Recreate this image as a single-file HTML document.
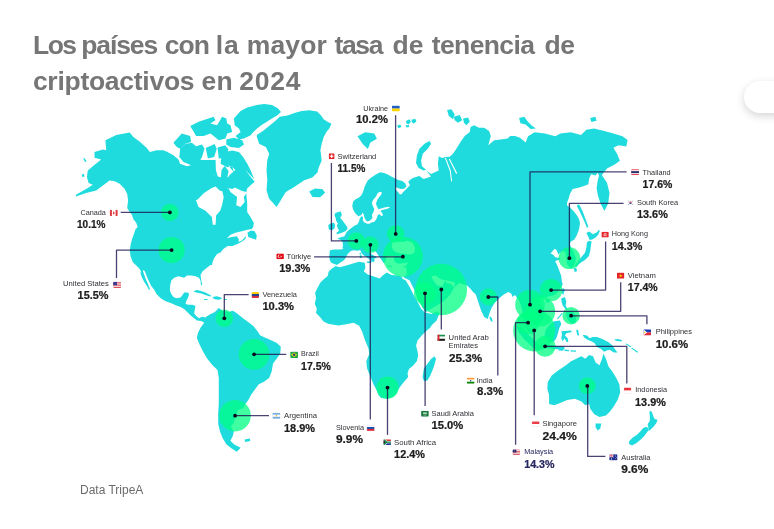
<!DOCTYPE html>
<html><head><meta charset="utf-8"><title>Mapa</title>
<style>
html,body{margin:0;padding:0;background:#fff;}
body{width:774px;height:529px;overflow:hidden;position:relative;font-family:"Liberation Sans",sans-serif;}
h1{position:absolute;left:0;top:0;margin:0;font-size:26.5px;line-height:26.5px;font-weight:700;color:#767676;white-space:nowrap;}
h1 span{position:absolute;white-space:nowrap;}
.src{position:absolute;left:80px;top:483px;font-size:12px;color:#6b6b6b;}
.pill{position:absolute;left:744px;top:80.5px;width:60px;height:32px;border-radius:16px;background:#fff;box-shadow:0 3px 8px rgba(0,0,0,.17);}
svg{position:absolute;left:0;top:0;will-change:transform;}
h1,.src{will-change:transform;}
</style></head><body>
<h1><span style="left:32.94px;top:31.9px;letter-spacing:-1.488px">Los</span> <span style="left:81.22px;top:31.9px;letter-spacing:-1.12px">países</span> <span style="left:164.7px;top:31.9px;letter-spacing:-0.924px">con</span> <span style="left:215.75px;top:31.9px;letter-spacing:0.78px">la</span> <span style="left:246.82px;top:31.9px;letter-spacing:0.103px">mayor</span> <span style="left:334.4px;top:31.9px;letter-spacing:-1.319px">tasa</span> <span style="left:392.4px;top:31.9px;letter-spacing:0.157px">de</span> <span style="left:431.7px;top:31.9px;letter-spacing:-0.6px">tenencia</span> <span style="left:544.4px;top:31.9px;letter-spacing:-0.212px">de</span> <span style="left:32.9px;top:67.7px;letter-spacing:-0.275px">criptoactivos</span> <span style="left:201.6px;top:67.7px;letter-spacing:0.212px">en</span> <span style="left:239.18px;top:67.7px;letter-spacing:0.748px">2024</span></h1>
<div class="pill"></div>
<svg width="774" height="529" viewBox="0 0 774 529">
<path d="M76.0,194.7 87.8,188.0 92.8,184.7 88.6,183.0 86.9,177.1 87.8,170.4 92.8,166.2 101.2,159.5 94.5,157.8 94.5,151.9 102.9,149.4 106.2,150.2 105.4,140.2 116.3,135.1 129.7,132.6 133.1,136.8 139.8,141.8 146.5,147.7 149.9,151.9 156.6,150.2 163.3,150.2 167.5,151.9 173.4,155.3 178.5,159.5 180.1,163.7 186.9,166.2 193.6,164.5 200.3,166.2 206.0,164.0 209.2,169.3 214.4,174.9 220.8,177.5 221.6,169.8 224.7,165.9 228.6,171.1 227.3,177.5 232.5,180.1 235.0,174.9 238.9,177.5 237.6,185.3 232.5,189.1 227.3,187.9 224.7,191.7 219.5,190.4 215.7,186.6 211.8,187.9 204.0,193.0 197.6,199.5 196.0,200.3 198.5,207.0 205.2,210.4 211.9,217.1 212.8,224.7 215.6,224.7 216.1,215.4 220.3,210.4 222.0,205.3 223.7,197.0 222.0,190.2 224.5,187.7 228.7,188.6 230.4,191.9 237.1,197.0 236.3,205.3 240.5,207.0 244.7,202.0 243.8,197.0 246.3,193.6 247.2,203.7 247.2,212.1 250.5,217.1 253.9,223.0 253.1,227.2 251.8,229.1 247.5,229.8 241.9,231.2 236.2,232.6 230.5,234.8 226.9,238.3 231.9,236.9 236.9,236.2 239,239.7 238.3,241.9 241.9,240.5 244.7,237.6 246.1,235.5 245.4,239 241.9,241.4 239,243.3 235.5,244.7 232.6,246.1 227.6,246.1 223.4,249 220.5,252.5 217,254 214.1,258.2 212.7,261.8 212,265 210.4,264.9 206.9,267.8 202.6,271.3 200.5,274.9 201.2,279.8 202.3,285.5 200.9,284.8 200.5,280.6 199,277.7 195.5,276.3 191.2,275.6 187,275.6 184.1,277.7 178.4,276.3 174.2,277.7 171.3,280.6 170.2,285.5 169.9,290.5 171.3,294.1 173.5,296.9 176.3,298.3 180.6,297.6 182.7,294.8 184.1,292.6 187.7,292.4 189.1,294.1 188.1,297.6 186.2,301.2 185.5,304 188.4,304.7 192.6,304.7 195.5,306.1 194.8,309.7 194.1,313.2 196.2,316.1 199,318.2 201.9,316.8 205.4,317.5 206.9,316.8 209.7,315.4 211.1,314 204.7,325 204,322.5 201.2,321.1 196.9,320.4 194.1,318.2 191.2,316.1 187.7,312.5 184.1,309 180.6,306.9 176.3,305.4 171.3,303.3 165.6,301.2 160.7,298.3 156.4,294.1 154.3,289.8 151.2,286.1 148.6,280.4 146.6,276.1 145.2,271.9 143.8,270.1 142.9,271.1 144.3,275 145.8,279.2 148,283.9 150,289.2 149,290 146.9,286.1 144.1,281.8 141.9,277.5 140.5,273.3 140.9,271.1 139.1,268.3 136.2,265.5 132.7,261.9 130.6,256.2 129.8,250.5 130.6,244.8 132,239.2 134.1,233.5 135.5,229.2 137.7,227.1 136.2,222.8 133.4,219.3 132,215 129,211 127.2,208.0 128.1,200.6 127.2,193.9 124.7,188.9 119.7,183.8 114.6,181.3 109.6,180.5 102.9,185.5 96.2,190.5 86.1,193.1 76.0,196.4Z M233.9,118.5 240.6,110.9 247.3,107.6 256.5,105.0 264.2,104.0 272.0,105.0 277.8,108.3 281.0,112.1 277.1,115.4 272.0,118.6 266.8,121.8 261.6,125.1 256.5,128.9 252.6,132.8 250.7,135.3 244.0,138.6 238.9,139.5 235.6,136.1 240.6,131.9 238.9,128.6 234.7,125.2Z M190.2,126.0 198.6,121.8 213.7,116.8 215.4,120.2 210.4,123.5 217.1,125.2 222.1,116.8 226.3,118.5 227.2,123.5 230.5,125.2 232.2,131.9 227.2,133.6 225.5,138.6 218.8,140.3 213.7,136.1 210.4,133.6 203.7,136.1 196.1,136.1 192.8,130.2Z M173.4,142.8 181.8,133.6 190.2,136.1 191.1,142.0 185.2,143.7 180.2,148.7 176.8,147.0Z M180.2,148.7 185.2,144.0 191.9,142.8 196.1,146.2 202.0,144.5 204.5,148.7 202.0,157.1 198.6,163.0 190.2,164.7 183.5,162.1 179.3,157.1Z M205.7,147.9 214.6,144.0 216.8,148.7 214.1,157.1 207.9,158.4Z M217.6,147.4 225.2,145.3 228.5,149.5 225.2,156.8 218.8,158.8Z M226.3,139.5 233.9,137.8 242.3,140.3 244.0,144.5 238.9,147.9 230.5,147.0 226.3,144.5Z M225.5,152.1 232.2,150.4 238.9,152.1 243.1,157.1 247.3,163.8 250.7,170.5 254.1,178.9 245.5,170.1 250.5,176.8 254.7,181.8 250.5,185.2 247.2,188.6 246.3,191.9 242.1,191.1 235.4,187.7 228.7,185.2 225.3,180.2 230.4,174.3 235.4,170.1 232.1,166.7 227.0,165.0 223.7,160.0 233.9,172.2 232.2,166.3 227.2,167.2 220.5,163.8 221.3,157.9Z M190.1,160.0 215.6,160.0 215.9,170.1 217.8,176.8 213.6,174.3 208.6,169.2 200.2,165.9 190.1,165.0Z M247.5,232.6 251.1,230.5 254.6,231.2 256.8,235.5 256.1,239.7 251.8,238.3 248.2,236.9Z M257.1,134.8 262.9,130.9 269.4,125.7 275.8,120.5 279.7,116.7 287.5,115.4 295.2,112.8 301.7,110.9 309.4,110.2 317.2,111.5 321.1,115.4 323.6,119.3 327.5,121.8 331.4,123.8 329.5,128.3 326.2,132.2 323.6,137.3 321.7,143.8 320.4,150.3 321.1,155.4 321.7,160.6 318.8,167.2 317.5,172.4 312.3,177.5 304.3,180.2 294.2,186.9 285.8,191.9 280.8,200.3 276.6,207.0 269.0,198.6 266.5,190.2 267.3,180.2 266.5,170.1 267.3,160.0 269.2,153.7 265.8,147.0 259.1,143.7 256.6,136.1Z M193.3,291.2 196.9,290.1 201.2,290.9 205.4,292.6 209.7,294.8 211.8,296.2 209,296.2 204.7,294.8 200.5,293.3 196.2,292.6Z M212.5,296.9 216.8,296.2 221.1,297.6 221.8,299 218.2,299.7 214,299Z M204,299 207.6,299 207.6,300.1 204,300.1Z M223.9,299 226.7,299 226.7,300.1 223.9,300.1Z M209.7,314.5 214.9,312.0 218.8,308.1 222.6,310.7 227.8,312.0 233.0,310.7 236.8,313.3 243.3,318.4 248.5,322.3 253.6,326.2 257.5,331.3 260.1,335.2 265.3,337.8 271.7,340.4 276.9,343.0 280.8,346.8 280.3,353.3 276.9,358.5 273.0,363.6 271.7,371.4 269.1,377.9 264.0,381.7 258.8,384.3 254.9,389.5 251.1,394.7 248.5,399.8 244.6,405.0 245.2,404.2 243.4,408 237.7,410.3 236.3,414.6 234.4,419.3 233.9,423.1 231.1,425.9 232,428.8 233.9,431.1 233.0,435.6 230.4,440.7 234.3,444.6 240.7,447.7 236.8,451.8 231.7,448.5 226.5,444.6 222.6,438.1 220.1,431.7 218.2,423.9 218.2,413.6 218.8,403.3 218.8,390.3 218.8,380.0 218.8,377.9 217.5,370.1 212.3,364.9 207.1,358.5 203.3,352.0 199.4,344.3 196.8,337.8 198.1,332.6 200.7,327.5 204.5,322.3 205.8,317.1Z M244.6,439.4 249.8,438.4 250.3,441.0 245.1,442.0Z M335.1,264.3 331.6,263.1 329.9,260.8 329.3,256.7 329.9,250.3 334,249.6 340,249.4 343.5,249 342.5,248.3 343,244.9 342.5,241.5 340.2,239.8 337.3,238.7 341.3,237 344.2,236.4 346.7,232.0 349.1,229.8 351.4,228.0 354.3,225.7 357.3,224.5 359.0,221.6 359.8,218.6 361.4,216.3 363.1,217.1 362.7,219.8 363.7,222.1 365.5,223.0 367.2,223.7 369.6,223.7 371.3,222.5 374.3,221.8 376.0,219.8 377.2,217.1 377.9,214.8 379.5,214.2 381.3,215.9 383.0,215.4 382.1,212.8 380.5,211.2 381.9,210.1 386.6,208.9 389.8,207.7 389.1,206.8 384.2,207.5 380.1,208.7 378.6,209.3 376.6,205.7 376.0,203.4 377.2,199.9 378.9,197.5 381.3,194.6 381.9,192.3 380.1,191.7 377.8,192.9 376.0,196.4 373.1,199.9 371.9,202.8 372.5,205.2 374.3,209.3 373.1,212.8 371.9,215.1 372.5,218.0 370.2,220.4 367.2,221.6 365.5,219.8 364.3,216.9 363.7,214.5 362.5,212.4 361.4,215.1 358.4,216.3 355.5,213.4 353.2,209.8 352.3,206.3 352.6,204.0 353.2,201.6 355.5,199.3 359.0,197.5 361.4,195.2 363.1,191.7 364.3,187.6 366.1,183.5 367.8,180.5 371.3,177.6 375.4,174.7 380.1,172.3 384.2,172.9 388.3,174.7 391.2,176.4 394.8,178.2 398.3,180.0 402.4,181.1 405.3,183.5 406.5,186.4 404.1,188.8 400.6,189.0 397.1,187.8 395.0,187.3 395.9,189.9 398.3,192.3 400.0,194.4 401.8,194.0 403.0,192.3 405.3,189.9 407.7,187.6 410.0,185.2 408.2,181.7 410.0,180.0 412.3,178.2 415.9,177.0 419.4,175.9 423.6,178.9 431.1,176.4 426.1,170.5 431.1,173.9 438.7,170.5 437.9,163.8 438.7,156.3 442.1,157.9 445.4,157.1 449.6,156.8 453.0,153.7 456.3,148.7 460.5,142.0 464.7,136.1 469.8,131.9 470.6,126.9 474.0,125.2 479.0,127.7 484.1,127.7 489.1,131.1 490.8,136.1 488.3,145.3 494.1,140.3 500.9,139.5 507.6,138.6 510.1,136.1 515.1,136.1 520.0,137.8 525.6,142.6 528.1,136.2 534.6,132.3 544.9,133.6 555.3,136.2 560.4,133.6 570.8,132.3 581.1,134.9 586.3,129.7 594.0,128.4 604.4,131.0 613.4,133.6 622.5,136.2 627.6,140.1 626.3,146.5 618.6,145.2 613.4,147.8 617.3,154.3 619.9,160.7 614.7,164.6 607.0,168.5 601.8,174.9 607.0,182.7 609.5,193.0 608.2,203.4 604.4,211.1 600.5,203.4 597.9,195.6 596.6,187.9 597.6,181.3 599,175.6 597.6,172.8 595.5,175.6 591.2,174.2 589.1,178.5 588.4,184.2 583.4,186.3 578.4,187.7 572.7,189.1 569.9,194.1 568.5,199.1 567.1,202.6 567.1,205.5 570,207.6 573.5,211 577,215.5 579,219 580,223 579,229.6 577,234.8 574.4,239.5 571.1,241.5 569.8,243.4 571.1,248.1 573.7,252 575.7,257.3 575.4,262.6 573.1,267.2 569.8,267.9 567.1,263.9 566.5,258.7 565.8,253.4 563.8,250.7 559.8,252.7 558.5,254.7 556.5,250.1 554.6,248.7 550.6,253.4 553.2,254.7 555.2,257.3 559.8,258 560.5,259.3 556.5,260.6 555.2,261.3 557.2,265.3 559.2,270.6 561.2,275.8 561.8,281.1 562.7,284.6 558.8,291.1 554.9,294.9 549.8,296.2 544.6,297.5 540.7,298.8 539.4,304.0 543.3,309.1 544.6,316.9 540.7,322.1 538.1,324.7 533.0,322.1 530.4,316.9 527.8,313.0 526.5,318.2 527.8,323.4 530.4,329.8 534.3,335.0 530.4,333.7 526.5,327.2 523.9,319.5 522.6,313.0 521.3,306.6 518.8,300.1 514.9,294.9 512.6,297 511.2,293.5 508.4,292 504.1,294.2 499.8,297.7 497,300.6 494.2,303.4 491.3,308.4 489.2,314.1 487.8,319 484.2,316.9 481.4,311.2 478.5,302.7 475.7,294.2 473,292 471.1,289.5 467.1,285.5 459.1,283.1 454.2,287.5 450.2,294.5 443.3,301.4 433.3,307.4 425.5,312.3 422.4,307.5 418.5,298.4 413.4,288.1 409.5,280.3 404.2,277.7 403.2,276.2 406.5,275.6 406.6,270 406.4,265 408.4,262.6 403.7,263.1 399.1,263.7 395.6,262.6 393.8,260.2 394.4,256.5 392.1,255.8 388,256.2 386.3,257.3 385.7,260.2 384.9,262.5 383.4,263.1 382.2,260.8 380.5,258.5 378.1,255 375.8,251.5 371.2,250.7 369.4,251.5 370.6,253.3 372.9,255 375.8,256.5 377,257.9 374.1,258.5 374.7,260.5 373.5,262.2 371.3,261 369.2,259.2 366.3,257 363.6,255.2 361.4,253.2 360.8,251 360.1,250.3 357.2,250.7 353.7,250.3 350.8,250.9 349.7,252.1 347.9,253.8 346.2,256.7 345,259.1 343.3,260.8 338.6,263.7 336.9,264.9Z M335.1,213.2 337.9,212 340.8,211.5 341.9,214.9 340.2,217.7 342.5,220.5 344.7,223.4 347,226.8 347.6,229.1 345.3,231.3 341.3,233 337.3,234.2 336.2,233 339.1,230.8 337.9,228.5 336.8,225.6 337.9,223.4 336.2,221.1 335.6,217.7 334.5,215.4Z M328.3,225.1 330.5,223.4 333.9,222.8 335.1,225.1 334.5,228.5 331.7,230.2 328.8,229.6Z M309.2,191.5 315.0,188.5 322.6,189.3 325.1,192.7 320.1,197.2 312.5,196.9Z M357.5,136.2 365.3,132.3 374.3,133.6 376.9,138.8 370.4,142.6 367.9,149.1 362.7,143.9Z M429.5,141.1 431.1,143.7 427.8,148.7 422.8,153.7 421.1,160.5 421.9,166.3 426.1,169.7 423.6,170.5 418.6,168.0 416.0,163.0 416.9,155.4 419.4,148.7 424.4,143.7Z M447.1,110.1 451.3,109.2 454.7,114.3 453.0,119.3 448.8,116.0Z M453.8,116.8 459.7,115.1 462.2,120.2 458.0,122.7 454.7,120.2Z M463.1,118.5 468.1,117.6 469.8,121.8 466.4,125.2 463.9,122.7Z M406.0,121.0 409.3,119.3 411.0,121.8 408.5,124.4 406.5,123.5Z M411.5,119.8 415.2,118.8 416.5,121.5 413.5,123.5 411.8,122.2Z M405.5,125.2 408.8,124.9 409.3,126.9 406.5,127.4Z M397.1,125.5 400.4,124.4 401.4,126.9 398.4,128.2Z M519.1,118.1 524.3,116.8 528.1,122.0 532.0,125.8 535.9,128.4 530.7,128.9 525.6,124.5 520.4,123.3Z M590.2,118.1 595.3,116.8 596.6,120.7 591.4,122.0Z M577.5,204.5 579.5,205 582.5,211 585.8,219.7 588.3,226.5 587,228 584.6,222 581.8,216 579.3,210.5 577,206.5Z M586.3,232.9 589.2,231.5 592.9,234.2 596.9,232.2 598.9,229.8 599.8,230.9 598.2,234.8 595.6,237.5 592.2,239.5 589.6,240.1 588.3,236.8Z M591.6,241.5 590.9,245.4 590.3,250.7 588.9,256 585,260 581,262.6 578.4,264.6 576.4,267.2 574.7,265.9 579,260 582.3,256 585,252.7 586.3,248.1 587,242.1 589.6,240.8Z M573.7,267.9 576.4,267.9 577,271.2 574.7,271.9Z M562.7,287.7 564.8,289.8 563.2,294.9 561.4,292.4Z M545.9,299.6 549.8,298.8 549.3,302.2 546.1,302.7Z M561.3,298.5 564.9,297.1 566.3,301.4 565.6,305.6 567.7,309.2 565.6,309.2 562.7,305.6 561.6,302.1Z M566.3,311.3 572.7,311.3 576.2,317 575.5,322.7 572,324.1 568.4,320.6 566.3,316.3Z M557.1,318.4 562,312.7 562.7,313.5 557.9,319.3Z M554.2,321.3 559.9,320.6 561.3,324.1 559.2,328.4 557.8,334.1 556.3,338.3 554.2,341.2 548.5,341.9 544.3,336.9 545.7,329.8 550,324.1Z M561.3,331.2 570.6,330.5 572,331.9 566.3,333.3 564.9,335.5 567.7,338.3 568.4,341.9 566.7,341.9 564.4,338.3 562.7,341.5 561.3,338.3 562,334.1Z M576.2,329.8 578.1,330.1 579.1,335.5 577.2,335.2Z M516.2,325.9 521.3,327.2 527.8,333.7 535.6,341.4 540.7,347.9 538.1,350.5 531.7,346.6 523.9,338.9 518.8,332.4Z M538.8,344.5 546.5,344.5 555.6,345.8 564.6,347.1 564.1,349.7 554.3,348.9 545.2,347.9 539.3,346.9Z M582.6,334.8 586.9,335.5 589.7,338.3 592.6,336.9 596.9,336.9 602.5,339 608.2,341.9 612.5,345.4 615.3,349.7 617.5,352.5 613.9,352.5 609.6,349.7 606.8,350.4 604,351.8 601.1,349 596.9,346.9 594.7,343.3 591.2,341.2 587.6,339.7 584.1,337.6Z M613.9,339.4 618,339 622.4,340.2 621,341.4 616,340.8Z M625.3,344 626.5,343.6 631.5,346.5 630.5,347.2Z M631,348.3 632.2,347.8 638.3,352 637.3,352.8Z M558.5,349.2 563,349.5 563,350.8 558.5,350.5Z M564.5,349.6 569,350 569,351.2 564.5,350.9Z M570.5,350.2 576,350.6 576,351.8 570.5,351.4Z M489.9,316.2 492,318.3 492.7,321.9 491,321.2 489.6,318.3Z M332.1,265.3 340.0,267.3 347.9,264.9 358.9,261.7 364.8,262.7 365.4,267.7 363.8,271.6 367.8,274.6 373.8,276.6 379.7,278.6 382.7,275.6 386.7,272.6 391.6,275.0 399.6,275.8 402.4,277.3 402.2,278.8 405.6,280.3 409.5,286.8 413.4,294.5 417.2,301.0 421.1,308.8 425.0,312.6 431.4,313.9 437.9,311.3 439.2,313.9 436.6,320.4 431.4,325.6 427.6,330.7 433.1,324.3 427.4,329.9 421.7,335.6 417.5,340.6 416.1,345.6 417.5,351.3 418.2,355.5 416.8,361.2 413.2,365.5 409,369 407.5,373.3 408.2,376.9 404.7,381.1 401.1,385.4 398.3,389.6 396.2,394 393,396.8 387.5,398.7 381.1,397.9 378.4,395 377,391.1 373.4,384 369.9,375.4 367,368.3 366.3,361.2 369.2,354.1 368.5,348.4 364.9,339.9 362.1,331.4 359.2,325.7 353.5,322.8 346.2,324.3 338.4,325.6 330.7,324.3 328.6,323.9 323.5,321.4 320.2,317.2 316,313 316.8,308.8 314.8,303.7 316,297.9 315.1,292.8 317.6,287.8 320.2,282.8 323.5,279.4 327.7,276 328.6,271.8 331.9,268.5 336.1,266Z M434.5,356.2 436,359.1 433.8,366.9 430.3,375.4 427.4,380.4 423.9,381.1 422.5,376.9 423.9,368.3 427.4,364.1 431,359.1Z M547.8,382.0 551.7,375.6 558.1,370.4 565.9,365.2 571.1,361.3 576.2,358.8 581.4,356.2 585.3,358.8 589.1,354.9 593.0,356.2 595.6,362.6 599.5,365.2 602.1,358.8 603.4,353.6 605.9,358.8 608.5,366.5 612.4,371.7 616.3,378.1 619.4,384.6 620.2,392.4 617.6,400.1 613.7,406.6 609.8,411.7 605.9,415.6 599.5,416.9 594.3,414.3 590.4,409.1 589.1,404.0 585.3,405.3 581.4,401.4 574.9,398.8 567.2,400.1 560.7,402.7 554.3,405.3 549.1,404.0 549.1,394.9 547.3,388.5Z M595.6,423.4 601.3,423.4 600.3,428.5 597.7,430.6 595.6,427.2Z M649.7,410.6 651.9,412.0 653.3,416.3 654.7,419.1 657.6,419.8 656.1,423.4 653.3,427.0 649.7,430.5 648.3,430.5 648.3,427.0 647.6,424.1 649.7,421.3 650.0,417.0 649.5,413.5Z M647.6,427.2 648.3,430.5 646.9,432.6 644.1,436.2 640.5,439.7 636.2,443.3 632.0,445.4 629.1,444.0 629.1,441.2 632.7,437.6 637.0,434.8 640.5,431.2 643.3,428.1 645.5,427.0Z M366.5,261.4 371.7,261.2 371.2,263.1 367.5,263Z M359.8,255.3 361.6,255.3 361.6,258.1 359.9,258Z M359.6,252.7 360.9,252.7 360.8,254.8 359.7,254.7Z M387.5,265.6 392.5,266 392.5,267 387.6,266.8Z M403.5,266.4 407,265.6 406.5,267.3 403.8,267.6Z M83.1,158.6 84.6,158.2 86.7,161.5 85.2,162Z M81.7,174.5 84,174.1 84.5,176.5 82.3,176.9Z" fill="#20dbdd" fill-rule="nonzero"/>
<path d="M392.4,242.8 396.6,241.1 403.3,242.0 407.5,240.8 412.6,242.8 415.1,247.8 414.3,252.9 410.1,254.6 403.3,253.7 398.3,252.9 394.1,251.2 391.6,247.0Z M431.3,276.6 435.3,275.6 441.3,279.6 447.2,280.6 451.2,281.6 455,282.6 454.2,287.5 450.2,283.5 446.2,283.1 445.2,280.2 442.3,286.5 437.3,285.5 433.3,280.6Z M444.9,157.9 445.9,157.8 450.8,170.5 452.1,181.3 451.1,181.5 449.8,170.9Z M448.8,159.1 449.8,158.8 457.2,173.2 456.2,173.9Z" fill="#fff"/>
<g fill="#00ff84" fill-opacity="0.75">
<circle cx="169.9" cy="212.4" r="8.7"/>
<circle cx="171.6" cy="250.1" r="13.1"/>
<circle cx="224.3" cy="318.3" r="8.7"/>
<circle cx="254.1" cy="354.3" r="15.4"/>
<circle cx="235.1" cy="415.7" r="15.7"/>
<circle cx="356.3" cy="240.9" r="8.6"/>
<circle cx="370.4" cy="244.8" r="8.3"/>
<circle cx="395.7" cy="233.9" r="8.7"/>
<circle cx="402.9" cy="256.7" r="20"/>
<circle cx="441.3" cy="289.5" r="25.8"/>
<circle cx="425" cy="293.3" r="11"/>
<circle cx="387.5" cy="387.6" r="11.1"/>
<circle cx="488.3" cy="297" r="8.5"/>
<circle cx="530" cy="304.7" r="14.8"/>
<circle cx="540.1" cy="311.3" r="15.1"/>
<circle cx="528.1" cy="322.7" r="11.2"/>
<circle cx="534.2" cy="330.4" r="21"/>
<circle cx="545.1" cy="346.3" r="10.5"/>
<circle cx="551.1" cy="290.1" r="11.2"/>
<circle cx="569.4" cy="258.2" r="10.9"/>
<circle cx="571.1" cy="315.7" r="8.7"/>
<circle cx="587.3" cy="385.9" r="8.3"/>
</g>
<g fill="none" stroke="#1d134f" stroke-opacity="0.8" stroke-width="1.3" stroke-linejoin="round">
<path d="M120.7,212.4H169.9"/>
<path d="M171.6,250.1H116.5V278.1"/>
<path d="M224.3,318.3V294.6H248.6"/>
<path d="M254.1,354.3H286.3"/>
<path d="M235,415.7H269"/>
<path d="M314.1,256.8H402.8"/>
<path d="M331.4,163V240.9H356.3"/>
<path d="M395.6,115.2V233.9"/>
<path d="M370.3,244.8V419.5"/>
<path d="M387.5,387.4V434.9"/>
<path d="M425.1,293.4V405.9"/>
<path d="M441.3,289.5V329.4"/>
<path d="M488.3,297H497.8V375.6"/>
<path d="M530,304.7V171.8H626.6"/>
<path d="M569.4,258.2V203.3H623.6"/>
<path d="M551.1,290.1H605.6V241.4"/>
<path d="M540.1,311.3H620.7V282.2"/>
<path d="M571.1,315.8H646.9V324.3"/>
<path d="M528.1,322.7H515.6V444.8"/>
<path d="M534.2,330.4V415.3"/>
<path d="M545.1,346.3H626.8V383.6"/>
<path d="M587.7,386V456.4H605.4"/>
</g>
<g fill="#0a0a1e">
<circle cx="169.9" cy="212.4" r="1.9"/>
<circle cx="171.6" cy="250.1" r="1.9"/>
<circle cx="224.3" cy="318.3" r="1.9"/>
<circle cx="254.1" cy="354.3" r="1.9"/>
<circle cx="235.1" cy="415.7" r="1.9"/>
<circle cx="356.3" cy="240.9" r="1.9"/>
<circle cx="370.4" cy="244.8" r="1.9"/>
<circle cx="395.7" cy="233.9" r="1.9"/>
<circle cx="402.9" cy="256.7" r="1.9"/>
<circle cx="441.3" cy="289.5" r="1.9"/>
<circle cx="425" cy="293.3" r="1.9"/>
<circle cx="387.5" cy="387.6" r="1.9"/>
<circle cx="488.3" cy="297" r="1.9"/>
<circle cx="530" cy="304.7" r="1.9"/>
<circle cx="540.1" cy="311.3" r="1.9"/>
<circle cx="528.1" cy="322.7" r="1.9"/>
<circle cx="534.2" cy="330.4" r="1.9"/>
<circle cx="545.1" cy="346.3" r="1.9"/>
<circle cx="551.1" cy="290.1" r="1.9"/>
<circle cx="569.4" cy="258.2" r="1.9"/>
<circle cx="571.1" cy="315.7" r="1.9"/>
<circle cx="587.3" cy="385.9" r="1.9"/>
</g>
<g transform="translate(109.7,209.7)"><clipPath id="cCA"><rect width="8.1" height="6.3" rx="1" ry="1"/></clipPath><g clip-path="url(#cCA)"><rect x="0" y="0" width="8.1" height="6.3" fill="#fff"/><rect x="0" y="0" width="2.19" height="6.3" fill="#e03a3e"/><rect x="5.91" y="0" width="2.19" height="6.3" fill="#e03a3e"/><path d="M4.05,1.26L5.021999999999999,3.4650000000000003L4.05,5.04L3.078,3.4650000000000003Z" fill="#e03a3e"/></g></g>
<g transform="translate(113.1,281.8)"><clipPath id="cUS"><rect width="8.1" height="6.2" rx="1" ry="1"/></clipPath><g clip-path="url(#cUS)"><rect x="0" y="0" width="8.1" height="6.2" fill="#fff"/><rect x="0" y="0.0" width="8.1" height="0.89" fill="#d8414b"/><rect x="0" y="1.77" width="8.1" height="0.89" fill="#d8414b"/><rect x="0" y="3.54" width="8.1" height="0.89" fill="#d8414b"/><rect x="0" y="5.31" width="8.1" height="0.89" fill="#d8414b"/><rect x="0" y="0" width="3.89" height="3.41" fill="#3c3b8e"/></g></g>
<g transform="translate(251.5,292.1)"><clipPath id="cVE"><rect width="7.5" height="5.8" rx="1" ry="1"/></clipPath><g clip-path="url(#cVE)"><rect x="0" y="0.0" width="7.5" height="1.98" fill="#ffcc00"/><rect x="0" y="1.93" width="7.5" height="1.98" fill="#24408e"/><rect x="0" y="3.87" width="7.5" height="1.98" fill="#d52b3a"/></g></g>
<g transform="translate(290.2,351.6)"><clipPath id="cBR"><rect width="7.9" height="6.4" rx="1" ry="1"/></clipPath><g clip-path="url(#cBR)"><rect x="0" y="0" width="7.9" height="6.4" fill="#1fa84a"/><path d="M0.948,3.2L3.95,0.96L6.952,3.2L3.95,5.44Z" fill="#fedf00"/><circle cx="3.95" cy="3.2" r="1.2800000000000002" fill="#243a8c"/></g></g>
<g transform="translate(272.5,412.8)"><clipPath id="cAR"><rect width="7.8" height="6.0" rx="1" ry="1"/></clipPath><g clip-path="url(#cAR)"><rect x="0" y="0.0" width="7.8" height="2.05" fill="#74acdf"/><rect x="0" y="2.0" width="7.8" height="2.05" fill="#ffffff"/><rect x="0" y="4.0" width="7.8" height="2.05" fill="#74acdf"/><circle cx="3.9" cy="3.0" r="0.78" fill="#f6b40e"/><rect width="7.8" height="6.0" rx="1" fill="none" stroke="#9cc4e8" stroke-width="0.5"/></g></g>
<g transform="translate(276.3,253.4)"><clipPath id="cTR"><rect width="7.6" height="5.9" rx="1" ry="1"/></clipPath><g clip-path="url(#cTR)"><rect x="0" y="0" width="7.6" height="5.9" fill="#e30a17"/><circle cx="3.1919999999999997" cy="2.95" r="1.6520000000000004" fill="#fff"/><circle cx="3.6479999999999997" cy="2.95" r="1.298" fill="#e30a17"/><circle cx="4.864" cy="2.95" r="0.5900000000000001" fill="#fff"/></g></g>
<g transform="translate(328.7,153.3)"><clipPath id="cCH"><rect width="5.9" height="5.9" rx="1" ry="1"/></clipPath><g clip-path="url(#cCH)"><rect x="0" y="0" width="5.9" height="5.9" fill="#e4232b"/><rect x="2.36" y="1.18" width="1.18" height="3.54" fill="#fff"/><rect x="1.18" y="2.36" width="3.54" height="1.18" fill="#fff"/></g></g>
<g transform="translate(391.9,105.6)"><clipPath id="cUA"><rect width="7.9" height="5.9" rx="1" ry="1"/></clipPath><g clip-path="url(#cUA)"><rect x="0" y="0.0" width="7.9" height="3.0" fill="#1f5fc4"/><rect x="0" y="2.95" width="7.9" height="3.0" fill="#ffd500"/></g></g>
<g transform="translate(366.7,425)"><clipPath id="cSI"><rect width="7.9" height="6" rx="1" ry="1"/></clipPath><g clip-path="url(#cSI)"><rect x="0" y="0.0" width="7.9" height="2.05" fill="#ffffff"/><rect x="0" y="2.0" width="7.9" height="2.05" fill="#1c4fb0"/><rect x="0" y="4.0" width="7.9" height="2.05" fill="#e8242f"/><rect width="7.9" height="6" rx="1" fill="none" stroke="#c9c9d6" stroke-width="0.5"/></g></g>
<g transform="translate(383.4,439.3)"><clipPath id="cZA"><rect width="7.7" height="5.7" rx="1" ry="1"/></clipPath><g clip-path="url(#cZA)"><rect x="0" y="0" width="7.7" height="2.85" fill="#e03c31"/><rect x="0" y="2.85" width="7.7" height="2.85" fill="#1f3a93"/><path d="M0,0L3.4650000000000003,2.85L0,5.7M3.4650000000000003,2.85H7.7" stroke="#fff" stroke-width="2.394" fill="none"/><path d="M0,0L3.4650000000000003,2.85L0,5.7M3.4650000000000003,2.85H7.7" stroke="#128a4c" stroke-width="1.3679999999999999" fill="none"/><path d="M0,1.026L2.31,2.85L0,4.6739999999999995Z" fill="#111"/></g></g>
<g transform="translate(421.1,410.7)"><clipPath id="cSA"><rect width="7.7" height="6.0" rx="1" ry="1"/></clipPath><g clip-path="url(#cSA)"><rect x="0" y="0" width="7.7" height="6.0" fill="#1a7a3e"/><rect x="1.93" y="1.8" width="3.85" height="1.32" fill="#d8eadd"/><rect x="2.31" y="4.08" width="3.08" height="0.48" fill="#d8eadd"/></g></g>
<g transform="translate(437.3,334.5)"><clipPath id="cAE"><rect width="7.9" height="6.4" rx="1" ry="1"/></clipPath><g clip-path="url(#cAE)"><rect x="0" y="0.0" width="7.9" height="2.18" fill="#11924a"/><rect x="0" y="2.13" width="7.9" height="2.18" fill="#ffffff"/><rect x="0" y="4.27" width="7.9" height="2.18" fill="#1b1b1b"/><rect x="0" y="0" width="2.13" height="6.4" fill="#e8212b"/><rect width="7.9" height="6.4" rx="1" fill="none" stroke="#bbb" stroke-width="0.3"/></g></g>
<g transform="translate(466.7,377.6)"><clipPath id="cIN"><rect width="7.9" height="6.1" rx="1" ry="1"/></clipPath><g clip-path="url(#cIN)"><rect x="0" y="0.0" width="7.9" height="2.08" fill="#ff9933"/><rect x="0" y="2.03" width="7.9" height="2.08" fill="#ffffff"/><rect x="0" y="4.07" width="7.9" height="2.08" fill="#138808"/><circle cx="3.95" cy="3.05" r="0.732" fill="#2a3a9c"/></g></g>
<g transform="translate(512.5,449.4)"><clipPath id="cMY"><rect width="7.7" height="5.5" rx="1" ry="1"/></clipPath><g clip-path="url(#cMY)"><rect x="0" y="0" width="7.7" height="5.5" fill="#fff"/><rect x="0" y="0.0" width="7.7" height="0.79" fill="#d8414b"/><rect x="0" y="1.57" width="7.7" height="0.79" fill="#d8414b"/><rect x="0" y="3.14" width="7.7" height="0.79" fill="#d8414b"/><rect x="0" y="4.71" width="7.7" height="0.79" fill="#d8414b"/><rect x="0" y="0" width="3.85" height="3.13" fill="#23237a"/><circle cx="1.8479999999999999" cy="1.54" r="0.55" fill="#c9b24a"/></g></g>
<g transform="translate(531.8,421.3)"><clipPath id="cSG"><rect width="7.7" height="5.4" rx="1" ry="1"/></clipPath><g clip-path="url(#cSG)"><rect x="0" y="0.0" width="7.7" height="2.75" fill="#ee3a48"/><rect x="0" y="2.7" width="7.7" height="2.75" fill="#ffffff"/><rect width="7.7" height="5.4" rx="1" fill="none" stroke="#e6c9cc" stroke-width="0.5"/></g></g>
<g transform="translate(609.2,454.2)"><clipPath id="cAU"><rect width="8.3" height="6.2" rx="1" ry="1"/></clipPath><g clip-path="url(#cAU)"><rect x="0" y="0" width="8.3" height="6.2" fill="#1f2f8f"/><path d="M0,0L4.15,3.1M4.15,0L0,3.1" stroke="#fff" stroke-width="0.9"/><path d="M2.075,0V3.1M0,1.55H4.15" stroke="#fff" stroke-width="1.3"/><path d="M2.075,0V3.1M0,1.55H4.15" stroke="#e0242f" stroke-width="0.6"/><circle cx="2.2410000000000005" cy="4.712000000000001" r="0.6" fill="#fff"/><circle cx="6.2250000000000005" cy="1.8599999999999999" r="0.45" fill="#fff"/><circle cx="6.2250000000000005" cy="4.65" r="0.45" fill="#fff"/><circle cx="7.470000000000001" cy="3.1" r="0.4" fill="#fff"/></g></g>
<g transform="translate(623.8,387.6)"><clipPath id="cID"><rect width="7.5" height="5.9" rx="1" ry="1"/></clipPath><g clip-path="url(#cID)"><rect x="0" y="0.0" width="7.5" height="3.0" fill="#ee2a35"/><rect x="0" y="2.95" width="7.5" height="3.0" fill="#ffffff"/><rect width="7.5" height="5.9" rx="1" fill="none" stroke="#e6c9cc" stroke-width="0.5"/></g></g>
<g transform="translate(643.3,329.3)"><clipPath id="cPH"><rect width="7.8" height="6.2" rx="1" ry="1"/></clipPath><g clip-path="url(#cPH)"><rect x="0" y="0.0" width="7.8" height="3.15" fill="#1a3fb4"/><rect x="0" y="3.1" width="7.8" height="3.15" fill="#e12a3a"/><path d="M0,0L3.9,3.1L0,6.2Z" fill="#fff"/><circle cx="1.326" cy="3.1" r="0.744" fill="#f7c51e"/></g></g>
<g transform="translate(616.9,272.6)"><clipPath id="cVN"><rect width="7.5" height="6.1" rx="1" ry="1"/></clipPath><g clip-path="url(#cVN)"><rect x="0" y="0" width="7.5" height="6.1" fill="#e3242b"/><polygon points="3.75,1.32 4.2,2.53 5.49,2.58 4.48,3.39 4.83,4.63 3.75,3.92 2.67,4.63 3.02,3.39 2.01,2.58 3.3,2.53" fill="#ffde00"/></g></g>
<g transform="translate(601.4,231.7)"><clipPath id="cHK"><rect width="7.4" height="5.9" rx="1" ry="1"/></clipPath><g clip-path="url(#cHK)"><rect x="0" y="0" width="7.4" height="5.9" fill="#e8292f"/><circle cx="3.7" cy="2.95" r="1.5930000000000002" fill="#f6b9bb"/><circle cx="3.7" cy="2.95" r="0.5900000000000001" fill="#e8292f"/></g></g>
<g transform="translate(627.3,200.3)"><clipPath id="cKR"><rect width="6.4" height="5.0" rx="1" ry="1"/></clipPath><g clip-path="url(#cKR)"><rect x="0" y="0" width="6.4" height="5.0" fill="#f7f7fa"/><path d="M1.9500000000000002,2.5A1.25,1.25 0 0 1 4.45,2.5Z" fill="#d4313f"/><path d="M1.9500000000000002,2.5A1.25,1.25 0 0 0 4.45,2.5Z" fill="#2a4a9e"/><path d="M0.768,1.0l0.768,-0.5M4.864000000000001,0.5l0.768,0.5M0.768,4.0l0.768,0.5M4.864000000000001,4.5l0.768,-0.5" stroke="#555" stroke-width="0.5"/></g></g>
<g transform="translate(631.1,169.2)"><clipPath id="cTH"><rect width="7.9" height="5.9" rx="1" ry="1"/></clipPath><g clip-path="url(#cTH)"><rect x="0" y="0" width="7.9" height="5.9" fill="#e8283c"/><rect x="0" y="0.98" width="7.9" height="3.93" fill="#fff"/><rect x="0" y="1.97" width="7.9" height="1.97" fill="#2a2a6c"/></g></g>
<g font-family="Liberation Sans, sans-serif">
<text x="80.4" y="215.1" font-size="7.5" fill="#303036" textLength="25.5" lengthAdjust="spacingAndGlyphs">Canada</text>
<text x="77.0" y="228.0" font-size="10.3" font-weight="700" fill="#1d1d1f" stroke="#1d1d1f" stroke-width="0.22" textLength="28.5" lengthAdjust="spacingAndGlyphs">10.1%</text>
<text x="63.1" y="286.2" font-size="7.5" fill="#303036" textLength="45.8" lengthAdjust="spacingAndGlyphs">United States</text>
<text x="77.6" y="298.5" font-size="10.3" font-weight="700" fill="#1d1d1f" stroke="#1d1d1f" stroke-width="0.22" textLength="30.8" lengthAdjust="spacingAndGlyphs">15.5%</text>
<text x="262.4" y="297.4" font-size="7.5" fill="#303036" textLength="34.6" lengthAdjust="spacingAndGlyphs">Venezuela</text>
<text x="262.4" y="309.7" font-size="10.3" font-weight="700" fill="#1d1d1f" stroke="#1d1d1f" stroke-width="0.22" textLength="31.6" lengthAdjust="spacingAndGlyphs">10.3%</text>
<text x="301.1" y="356.4" font-size="7.5" fill="#303036" textLength="17.7" lengthAdjust="spacingAndGlyphs">Brazil</text>
<text x="301.1" y="370.0" font-size="10.3" font-weight="700" fill="#1d1d1f" stroke="#1d1d1f" stroke-width="0.22" textLength="29.8" lengthAdjust="spacingAndGlyphs">17.5%</text>
<text x="284.0" y="418.0" font-size="7.5" fill="#303036" textLength="33.0" lengthAdjust="spacingAndGlyphs">Argentina</text>
<text x="284.0" y="431.7" font-size="10.3" font-weight="700" fill="#1d1d1f" stroke="#1d1d1f" stroke-width="0.22" textLength="31.0" lengthAdjust="spacingAndGlyphs">18.9%</text>
<text x="286.4" y="258.6" font-size="7.5" fill="#303036" textLength="24.9" lengthAdjust="spacingAndGlyphs">Türkiye</text>
<text x="279.2" y="271.6" font-size="10.3" font-weight="700" fill="#1d1d1f" stroke="#1d1d1f" stroke-width="0.22" textLength="31.1" lengthAdjust="spacingAndGlyphs">19.3%</text>
<text x="337.6" y="158.5" font-size="7.5" fill="#303036" textLength="38.7" lengthAdjust="spacingAndGlyphs">Switzerland</text>
<text x="337.6" y="171.8" font-size="10.3" font-weight="700" fill="#1d1d1f" stroke="#1d1d1f" stroke-width="0.22" textLength="27.7" lengthAdjust="spacingAndGlyphs">11.5%</text>
<text x="363.3" y="110.6" font-size="7.5" fill="#303036" textLength="24.7" lengthAdjust="spacingAndGlyphs">Ukraine</text>
<text x="356.1" y="123.0" font-size="10.3" font-weight="700" fill="#1d1d1f" stroke="#1d1d1f" stroke-width="0.22" textLength="31.9" lengthAdjust="spacingAndGlyphs">10.2%</text>
<text x="335.9" y="429.6" font-size="7.5" fill="#303036" textLength="28.1" lengthAdjust="spacingAndGlyphs">Slovenia</text>
<text x="335.9" y="442.6" font-size="10.3" font-weight="700" fill="#1d1d1f" stroke="#1d1d1f" stroke-width="0.22" textLength="27.1" lengthAdjust="spacingAndGlyphs">9.9%</text>
<text x="394.1" y="444.8" font-size="7.5" fill="#303036" textLength="42.0" lengthAdjust="spacingAndGlyphs">South Africa</text>
<text x="394.1" y="457.5" font-size="10.3" font-weight="700" fill="#1d1d1f" stroke="#1d1d1f" stroke-width="0.22" textLength="30.8" lengthAdjust="spacingAndGlyphs">12.4%</text>
<text x="431.5" y="415.6" font-size="7.5" fill="#303036" textLength="42.4" lengthAdjust="spacingAndGlyphs">Saudi Arabia</text>
<text x="431.5" y="428.8" font-size="10.3" font-weight="700" fill="#1d1d1f" stroke="#1d1d1f" stroke-width="0.22" textLength="31.8" lengthAdjust="spacingAndGlyphs">15.0%</text>
<text x="448.6" y="340.0" font-size="7.5" fill="#303036" textLength="40.3" lengthAdjust="spacingAndGlyphs">United Arab</text>
<text x="448.6" y="347.9" font-size="7.5" fill="#303036" textLength="29.3" lengthAdjust="spacingAndGlyphs">Emirates</text>
<text x="448.9" y="361.9" font-size="10.3" font-weight="700" fill="#1d1d1f" stroke="#1d1d1f" stroke-width="0.22" textLength="33.2" lengthAdjust="spacingAndGlyphs">25.3%</text>
<text x="476.8" y="382.8" font-size="7.5" fill="#303036" textLength="15.8" lengthAdjust="spacingAndGlyphs">India</text>
<text x="477.1" y="395.3" font-size="10.3" font-weight="700" fill="#1d1d1f" stroke="#1d1d1f" stroke-width="0.22" textLength="26.0" lengthAdjust="spacingAndGlyphs">8.3%</text>
<text x="524.2" y="453.8" font-size="7.5" fill="#27275f" textLength="29.0" lengthAdjust="spacingAndGlyphs">Malaysia</text>
<text x="524.2" y="468.0" font-size="10.3" font-weight="700" fill="#27275f" stroke="#27275f" stroke-width="0.22" textLength="30.3" lengthAdjust="spacingAndGlyphs">14.3%</text>
<text x="542.4" y="426.3" font-size="7.5" fill="#303036" textLength="34.5" lengthAdjust="spacingAndGlyphs">Singapore</text>
<text x="542.4" y="439.5" font-size="10.3" font-weight="700" fill="#1d1d1f" stroke="#1d1d1f" stroke-width="0.22" textLength="34.5" lengthAdjust="spacingAndGlyphs">24.4%</text>
<text x="621.2" y="459.7" font-size="7.5" fill="#303036" textLength="29.3" lengthAdjust="spacingAndGlyphs">Australia</text>
<text x="621.2" y="473.3" font-size="10.3" font-weight="700" fill="#1d1d1f" stroke="#1d1d1f" stroke-width="0.22" textLength="27.1" lengthAdjust="spacingAndGlyphs">9.6%</text>
<text x="635.2" y="392.3" font-size="7.5" fill="#303036" textLength="31.9" lengthAdjust="spacingAndGlyphs">Indonesia</text>
<text x="635.1" y="405.5" font-size="10.3" font-weight="700" fill="#1d1d1f" stroke="#1d1d1f" stroke-width="0.22" textLength="30.7" lengthAdjust="spacingAndGlyphs">13.9%</text>
<text x="655.7" y="334.0" font-size="7.5" fill="#303036" textLength="36.3" lengthAdjust="spacingAndGlyphs">Philippines</text>
<text x="655.7" y="347.8" font-size="10.3" font-weight="700" fill="#1d1d1f" stroke="#1d1d1f" stroke-width="0.22" textLength="32.4" lengthAdjust="spacingAndGlyphs">10.6%</text>
<text x="627.8" y="278.0" font-size="7.5" fill="#303036" textLength="28.0" lengthAdjust="spacingAndGlyphs">Vietnam</text>
<text x="627.8" y="291.4" font-size="10.3" font-weight="700" fill="#1d1d1f" stroke="#1d1d1f" stroke-width="0.22" textLength="29.9" lengthAdjust="spacingAndGlyphs">17.4%</text>
<text x="611.8" y="236.4" font-size="7.5" fill="#303036" textLength="36.1" lengthAdjust="spacingAndGlyphs">Hong Kong</text>
<text x="611.8" y="249.8" font-size="10.3" font-weight="700" fill="#1d1d1f" stroke="#1d1d1f" stroke-width="0.22" textLength="30.6" lengthAdjust="spacingAndGlyphs">14.3%</text>
<text x="637.0" y="205.0" font-size="7.5" fill="#303036" textLength="41.2" lengthAdjust="spacingAndGlyphs">South Korea</text>
<text x="637.0" y="218.4" font-size="10.3" font-weight="700" fill="#1d1d1f" stroke="#1d1d1f" stroke-width="0.22" textLength="30.8" lengthAdjust="spacingAndGlyphs">13.6%</text>
<text x="642.6" y="175.1" font-size="7.5" fill="#303036" textLength="28.0" lengthAdjust="spacingAndGlyphs">Thailand</text>
<text x="642.6" y="187.7" font-size="10.3" font-weight="700" fill="#1d1d1f" stroke="#1d1d1f" stroke-width="0.22" textLength="29.7" lengthAdjust="spacingAndGlyphs">17.6%</text>
</g>
</svg>
<div class="src">Data TripeA</div>
</body></html>
